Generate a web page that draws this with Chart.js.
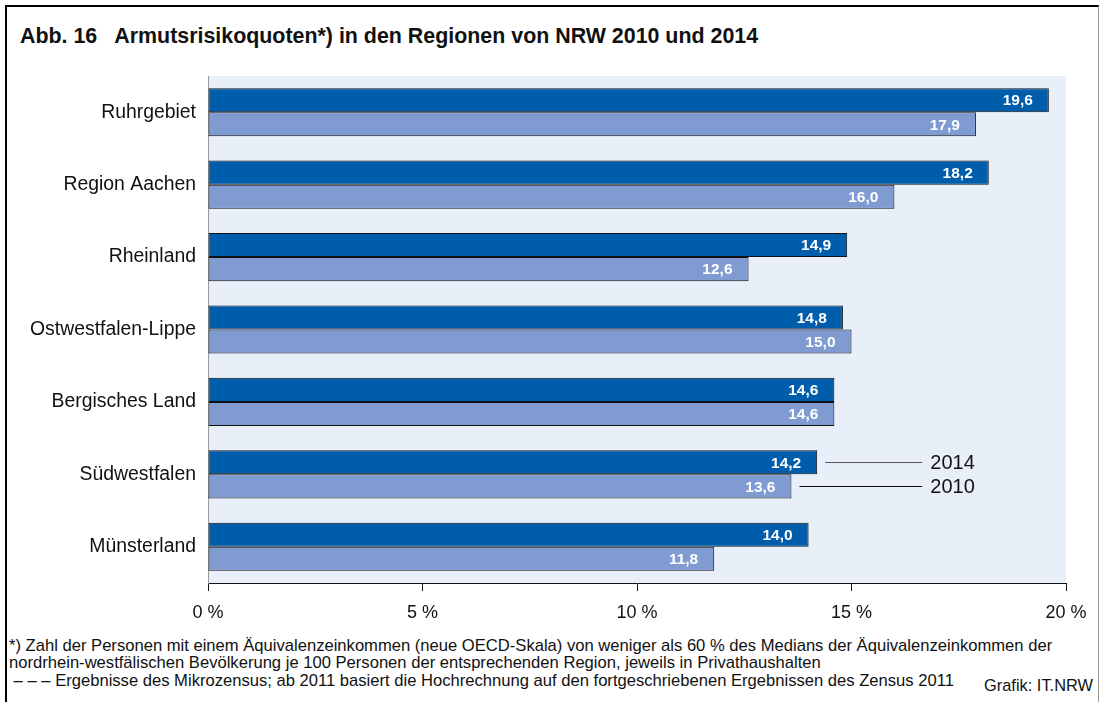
<!DOCTYPE html>
<html lang="de">
<head>
<meta charset="utf-8">
<script src="https://cdn.jsdelivr.net/npm/chart.js@4"></script>
<style>
  html, body { margin: 0; padding: 0; background: #fff; }
  body { width: 1100px; height: 702px; position: relative; overflow: hidden; font-family: "Liberation Sans", Arial, sans-serif; }
  #frame { position: absolute; left: 5px; top: 5px; width: 1091px; height: 720px; border-left: 2px solid #000; border-top: 2px solid #000; border-right: 1px solid #999; }
  #title { position: absolute; left: 20px; top: 24px; font-size: 21.4px; font-weight: bold; color: #111; white-space: pre; }
  #chartbox { position: absolute; left: 0; top: 60px; width: 1100px; height: 570px; }
  .note { position: absolute; left: 9px; font-size: 16.6px; color: #111; white-space: nowrap; }
  #source { position: absolute; right: 7px; top: 676px; font-size: 16.4px; color: #111; }
</style>
</head>
<body>
<div id="frame"></div>
<div id="title">Abb. 16   Armutsrisikoquoten*) in den Regionen von NRW 2010 und 2014</div>
<div id="chartbox"><canvas id="chart"></canvas></div>
<div class="note" style="top:636px">*) Zahl der Personen mit einem Äquivalenzeinkommen (neue OECD-Skala) von weniger als 60 % des Medians der Äquivalenzeinkommen der</div>
<div class="note" style="top:653px">nordrhein-westfälischen Bevölkerung je 100 Personen der entsprechenden Region, jeweils in Privathaushalten</div>
<div class="note" style="top:671px">&nbsp;– – – Ergebnisse des Mikrozensus; ab 2011 basiert die Hochrechnung auf den fortgeschriebenen Ergebnissen des Zensus 2011</div>
<div id="source">Grafik: IT.NRW</div>
<script>
// Regionen und Armutsrisikoquoten in %
const regions = ["Ruhrgebiet", "Region Aachen", "Rheinland", "Ostwestfalen-Lippe", "Bergisches Land", "Südwestfalen", "Münsterland"];
const values2014 = [19.6, 18.2, 14.9, 14.8, 14.6, 14.2, 14.0];
const values2010 = [17.9, 16.0, 12.6, 15.0, 14.6, 13.6, 11.8];
const xTicks = [0, 5, 10, 15, 20];

// Light blue background behind the bars
const plotBackground = {
    id: 'plotBackground',
    beforeDraw(chart) {
        const {ctx, chartArea: a} = chart;
        ctx.save();
        ctx.fillStyle = '#E8EFF8';
        ctx.fillRect(a.left, a.top, a.right - a.left, a.bottom - a.top);
        ctx.restore();
    }
};

// White values inside the bar ends
const barValues = {
    id: 'barValues',
    afterDatasetsDraw(chart) {
        const ctx = chart.ctx;
        ctx.save();
        ctx.font = 'bold 15.5px "Liberation Sans", Arial, sans-serif';
        ctx.fillStyle = '#fff';
        ctx.textAlign = 'right';
        ctx.textBaseline = 'middle';
        chart.data.datasets.forEach((ds, i) => {
            chart.getDatasetMeta(i).data.forEach((bar, j) => {
                ctx.fillText(ds.data[j].toFixed(1).replace('.', ','), bar.x - 16, bar.y + 1);
            });
        });
        ctx.restore();
    }
};

// Year labels next to the Südwestfalen bars
const yearLabels = {
    id: 'yearLabels',
    afterDraw(chart) {
        const ctx = chart.ctx;
        const idx = regions.indexOf("Südwestfalen");
        const endX = chart.scales.x.getPixelForValue(16.65);
        ctx.save();
        ctx.font = '20px "Liberation Sans", Arial, sans-serif';
        ctx.textBaseline = 'middle';
        ctx.lineWidth = 1;
        chart.data.datasets.forEach((ds, i) => {
            const bar = chart.getDatasetMeta(i).data[idx];
            ctx.strokeStyle = i === 0 ? '#555' : '#111';
            ctx.beginPath();
            ctx.moveTo(bar.x + 8, Math.round(bar.y) + 0.5);
            ctx.lineTo(endX, Math.round(bar.y) + 0.5);
            ctx.stroke();
            ctx.fillStyle = '#111';
            ctx.fillText(ds.label, endX + 8, bar.y + 1);
        });
        ctx.restore();
    }
};

new Chart(document.getElementById('chart'), {
    type: 'bar',
    data: {
        labels: regions,
        datasets: [{
            label: '2014',
            data: values2014,
            backgroundColor: '#005DAC',
            borderColor: '#111',
            borderWidth: 1,
            borderSkipped: false,
            categoryPercentage: 0.665,
            barPercentage: 1
        }, {
            label: '2010',
            data: values2010,
            backgroundColor: '#7F9BD1',
            borderColor: '#111',
            borderWidth: 1,
            borderSkipped: false,
            categoryPercentage: 0.665,
            barPercentage: 1
        }]
    },
    options: {
        indexAxis: 'y',
        responsive: true,
        maintainAspectRatio: false,
        animation: false,
        layout: { padding: { top: 16, right: 34, left: 0, bottom: 0 } },
        scales: {
            x: {
                min: 0,
                max: 20,
                afterBuildTicks: scale => { scale.ticks = xTicks.map(v => ({ value: v })); },
                afterFit: scale => { scale.height = 47; },
                grid: { drawOnChartArea: false, drawTicks: true, tickLength: 8, color: '#111' },
                border: { display: true, color: '#111', width: 1 },
                ticks: {
                    padding: 11,
                    color: '#111',
                    font: { size: 18, family: '"Liberation Sans", Arial, sans-serif' },
                    callback: value => value + ' %'
                }
            },
            y: {
                afterFit: scale => {
                    scale.width = 208;
                    scale.paddingTop = 0;
                    scale.paddingBottom = 0;
                },
                grid: { display: false, drawTicks: false },
                border: { display: true, color: '#999', width: 1 },
                ticks: {
                    padding: 12,
                    color: '#111',
                    font: { size: 19.4, family: '"Liberation Sans", Arial, sans-serif' }
                }
            }
        },
        plugins: {
            legend: { display: false },
            tooltip: { enabled: false }
        }
    },
    plugins: [plotBackground, barValues, yearLabels]
});
</script>
</body>
</html>
